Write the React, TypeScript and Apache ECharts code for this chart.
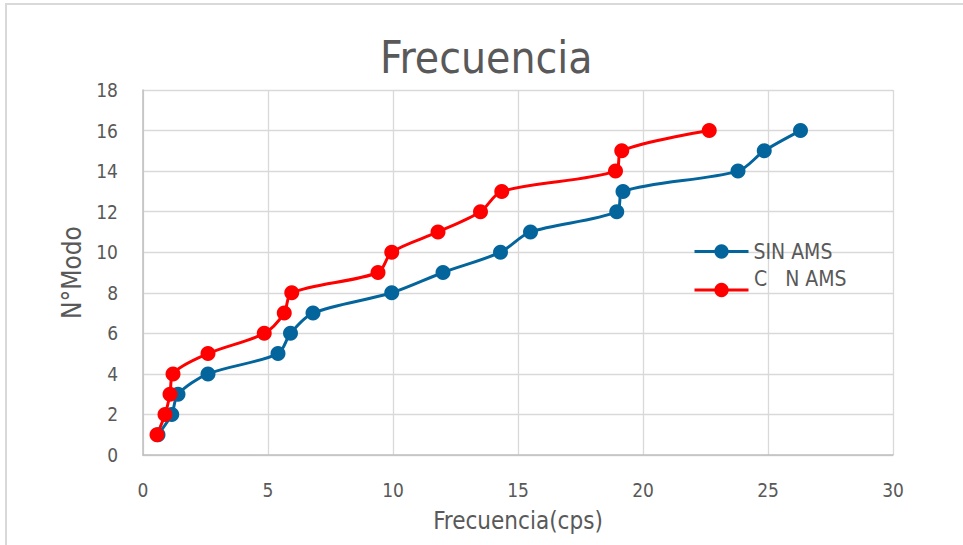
import React, { useEffect, useRef } from "react";
import * as echarts from "echarts";

const modes = [1, 2, 3, 4, 5, 6, 7, 8, 9, 10, 11, 12, 13, 14, 15, 16];
const sinAmsFreq = [0.6, 1.15, 1.4, 2.6, 5.4, 5.9, 6.8, 9.95, 12.0, 14.3, 15.5, 18.95, 19.2, 23.8, 24.85, 26.3];
const conAmsFreq = [0.56, 0.88, 1.08, 1.2, 2.6, 4.85, 5.65, 5.95, 9.4, 9.95, 11.8, 13.5, 14.35, 18.9, 19.15, 22.65];

const seriesNames = ["SIN AMS", "C\u00a0\u00a0\u00a0N AMS"];
const seriesColors = ["#04659c", "#ff0000"];

const FONT = "'Liberation Sans Narrow', 'DejaVu Sans Condensed', 'Liberation Sans', sans-serif";
const TEXT = "#595959";

export default function App() {
  const ref = useRef<HTMLDivElement>(null);
  useEffect(() => {
    const chart = echarts.init(ref.current!, null, { renderer: "svg" });
    const mk = (xs: number[]) => xs.map((x, i) => [x, modes[i]]);
    chart.setOption({
      animation: false,
      backgroundColor: "#ffffff",
      textStyle: { fontFamily: FONT },
      title: {
        text: "Frecuencia",
        left: 375,
        top: 30,
        textStyle: { fontSize: 44, fontWeight: "normal", color: TEXT, fontFamily: FONT },
      },
      graphic: [
        {
          type: "rect",
          shape: { x: 6, y: 4, width: 1100, height: 700 },
          style: { fill: "none", stroke: "#d9d9d9", lineWidth: 2 },
          silent: true,
        },
        {
          type: "text",
          left: 754,
          top: 268,
          style: { text: seriesNames[1], fontSize: 21, fill: TEXT, fontFamily: FONT },
          silent: true,
        },
      ],
      legend: [
        {
          data: [seriesNames[0]],
          left: 693,
          top: 241,
          padding: 0,
          itemWidth: 54,
          itemHeight: 18,
          lineStyle: { width: 3 },
          textStyle: { fontSize: 21, color: TEXT, fontFamily: FONT },
        },
        {
          data: [seriesNames[1]],
          left: 693,
          top: 281,
          padding: 0,
          itemWidth: 54,
          itemHeight: 18,
          lineStyle: { width: 3 },
          formatter: () => "",
          textStyle: { fontSize: 21, color: TEXT, fontFamily: FONT },
        },
      ],
      grid: { left: 143, right: 70, top: 90, bottom: 90 },
      xAxis: {
        type: "value",
        min: 0,
        max: 30,
        interval: 5,
        name: "Frecuencia(cps)",
        nameLocation: "middle",
        nameGap: 54,
        nameTextStyle: { fontSize: 24, color: TEXT, fontFamily: FONT },
        axisLine: { show: true, lineStyle: { color: "#bfbfbf", width: 1.5 } },
        axisTick: { show: false },
        axisLabel: { fontSize: 19, color: TEXT, margin: 25, fontFamily: FONT },
        splitLine: { show: true, lineStyle: { color: "#d9d9d9", width: 1.3 } },
      },
      yAxis: {
        type: "value",
        min: 0,
        max: 18,
        interval: 2,
        name: "N°Modo",
        nameLocation: "middle",
        nameGap: 56,
        nameTextStyle: { fontSize: 26, color: TEXT, fontFamily: FONT },
        axisLine: { show: true, lineStyle: { color: "#bfbfbf", width: 1.5 } },
        axisTick: { show: false },
        axisLabel: { fontSize: 19, color: TEXT, margin: 25, fontFamily: FONT },
        splitLine: { show: true, lineStyle: { color: "#d9d9d9", width: 1.3 } },
      },
      series: [
        {
          name: seriesNames[0],
          type: "line",
          data: mk(sinAmsFreq),
          smooth: 0.3,
          symbol: "circle",
          symbolSize: 15,
          lineStyle: { width: 3, color: seriesColors[0] },
          itemStyle: { color: seriesColors[0] },
        },
        {
          name: seriesNames[1],
          type: "line",
          data: mk(conAmsFreq),
          smooth: 0.3,
          symbol: "circle",
          symbolSize: 15,
          lineStyle: { width: 3, color: seriesColors[1] },
          itemStyle: { color: seriesColors[1] },
        },
      ],
    });
    return () => chart.dispose();
  }, []);
  return (
    <div
      ref={ref}
      style={{ position: "absolute", left: 0, top: 0, width: 963, height: 545 }}
    />
  );
}
